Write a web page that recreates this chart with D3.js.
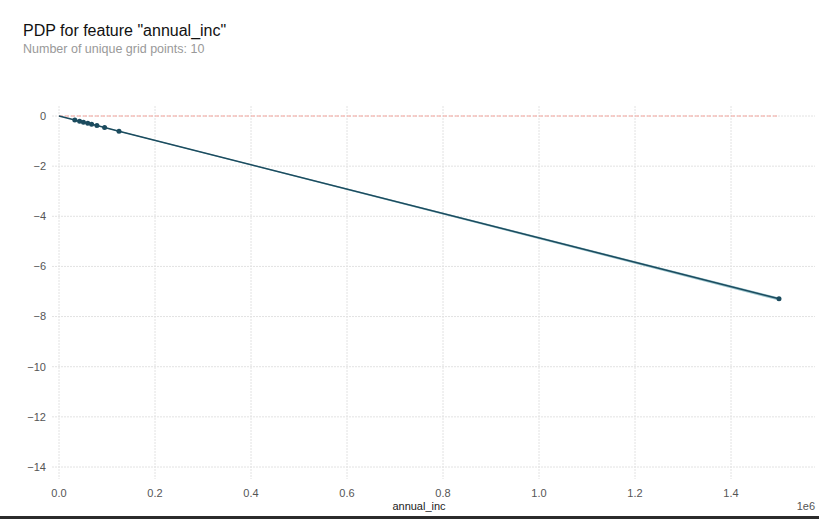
<!DOCTYPE html>
<html><head><meta charset="utf-8">
<script src="https://cdn.jsdelivr.net/npm/d3@7"></script>
<style>body{margin:0;background:#fff;}svg{display:block;font-family:"Liberation Sans",Arial,sans-serif;}</style>
</head><body>
<svg id="c" width="819" height="519"></svg>
<script>
const gridX = [0, 33000, 43000, 51000, 60000, 68000, 79000, 95000, 125000, 1500000];
const pdpY = [0, -0.16, -0.21, -0.25, -0.29, -0.33, -0.38, -0.46, -0.61, -7.29];
const bandUpper = [0, -0.15, -0.2, -0.24, -0.28, -0.32, -0.37, -0.45, -0.59, -7.24];
const bandLower = [0, -0.17, -0.22, -0.26, -0.30, -0.34, -0.39, -0.47, -0.63, -7.36];
const xTicks = [0, 200000, 400000, 600000, 800000, 1000000, 1200000, 1400000];
const yTicks = [0, -2, -4, -6, -8, -10, -12, -14];

const svg = d3.select("#c");
const x = d3.scaleLinear().domain([0, 1400000]).range([59, 731]);
const y = d3.scaleLinear().domain([0, -14]).range([116, 467]);

const gridColor = "#e2e2e2";
svg.append("g").selectAll("line").data(yTicks).join("line")
  .attr("x1", 52).attr("x2", 815).attr("y1", d => y(d)).attr("y2", d => y(d))
  .attr("stroke", gridColor).attr("stroke-width", 1).attr("stroke-dasharray", "2,1");
svg.append("g").selectAll("line").data(xTicks).join("line")
  .attr("y1", 106).attr("y2", 479).attr("x1", d => x(d)).attr("x2", d => x(d))
  .attr("stroke", gridColor).attr("stroke-width", 1).attr("stroke-dasharray", "2,1");

svg.append("g").selectAll("text").data(yTicks).join("text")
  .attr("x", 46).attr("y", d => y(d)).attr("dy", "0.35em").attr("text-anchor", "end")
  .attr("font-size", 11).attr("fill", "#555").text(d => d < 0 ? "\u2212" + Math.abs(d) : d);
svg.append("g").selectAll("text").data(xTicks).join("text")
  .attr("x", d => x(d)).attr("y", 497).attr("text-anchor", "middle")
  .attr("font-size", 11).attr("fill", "#555").text(d => d3.format(".1f")(d / 1e6));

svg.append("line").attr("x1", x(0)).attr("x2", x(1500000)).attr("y1", y(0)).attr("y2", y(0))
  .attr("stroke", "#f4a49c").attr("stroke-width", 1).attr("stroke-dasharray", "4,2");

const band = d3.area().x((d, i) => x(gridX[i])).y0((d, i) => y(bandLower[i])).y1((d, i) => y(bandUpper[i]));
svg.append("path").datum(gridX).attr("d", band).attr("fill", "#6aa6b3").attr("opacity", 0.7);

const line = d3.line().x((d, i) => x(gridX[i])).y(d => y(d));
svg.append("path").datum(pdpY).attr("d", line).attr("fill", "none")
  .attr("stroke", "#1b4b5e").attr("stroke-width", 1.5);
svg.append("g").selectAll("circle").data(pdpY.slice(1)).join("circle")
  .attr("cx", (d, i) => x(gridX[i + 1])).attr("cy", d => y(d)).attr("r", 2.5)
  .attr("fill", "#1b4b5e");

svg.append("text").attr("x", 23).attr("y", 36).attr("font-size", 16).attr("fill", "#111")
  .text('PDP for feature "annual_inc"');
svg.append("text").attr("x", 23).attr("y", 53).attr("font-size", 12.5).attr("fill", "#999")
  .text("Number of unique grid points: 10");
svg.append("text").attr("x", 419).attr("y", 510).attr("text-anchor", "middle")
  .attr("font-size", 11).attr("fill", "#222").text("annual_inc");
svg.append("text").attr("x", 815).attr("y", 510).attr("text-anchor", "end")
  .attr("font-size", 11).attr("fill", "#555").text("1e6");

svg.append("rect").attr("x", 0).attr("y", 516).attr("width", 819).attr("height", 3).attr("fill", "#2b2b2b");
</script>
</body></html>
